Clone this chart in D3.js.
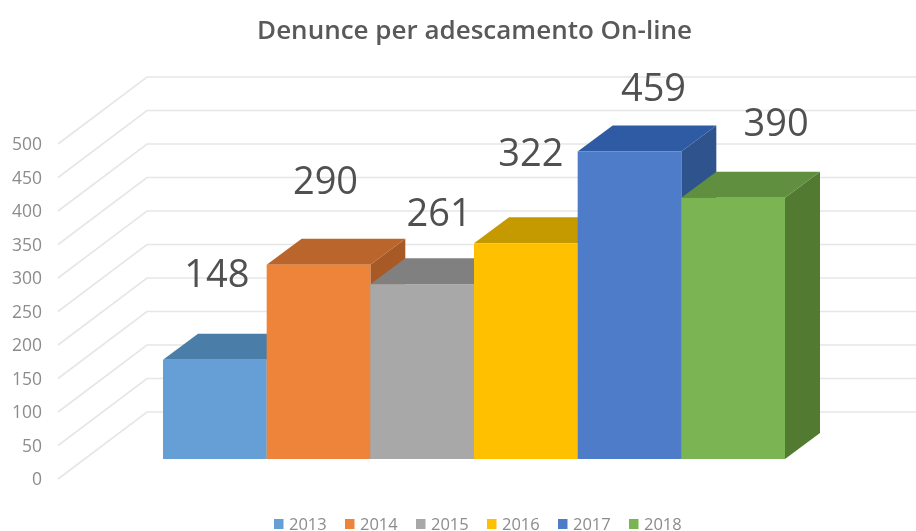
<!DOCTYPE html>
<html><head><meta charset="utf-8">
<script src="https://cdn.jsdelivr.net/npm/d3@7"></script>
<style>html,body{margin:0;background:#fff}svg{display:block;filter:blur(.55px)}text{font-family:"Open Sans",sans-serif}</style>
</head><body><svg id="c" width="916" height="531"></svg>
<script>
const titleText = "Denunce per adescamento On-line";
const years = ["2013","2014","2015","2016","2017","2018"];
const counts = [148,290,261,322,459,390];
const ticks = [0,50,100,150,200,250,300,350,400,450,500];
const frontColors = ["#659fd6","#ee843a","#a8a8a8","#ffc000","#4e7cc9","#7bb452"];
const topColors = ["#4a7ea9","#b9652c","#808080","#c49a00","#2f5ba5","#5f8f3f"];
const sideColors = ["#3f6f99","#a85a26","#707070","#a88400","#2f538d","#537a31"];

const W=916;
const svg=d3.select("#c");
const x=d3.scaleBand().domain(years).range([163,785]).padding(0);
const yFront=d3.scaleLinear().domain([0,500]).range([459,124]);
const yBack=d3.scaleLinear().domain([0,500]).range([412,77]);
const dep={dx:35,dy:-26};
const wall={left:58,corner:147,drop:67};

svg.append("text").attr("x",474.5).attr("y",39).attr("text-anchor","middle")
  .attr("font-size",26).attr("font-weight",600).attr("fill","#595959").text(titleText);

const grid=d3.line();
svg.append("g").selectAll("path").data(ticks).join("path")
  .attr("d",v=>grid([[wall.left,yBack(v)+wall.drop],[wall.corner,yBack(v)],[W,yBack(v)]]))
  .attr("fill","none").attr("stroke","#e6e6e6").attr("stroke-width",1.6);

svg.append("g").selectAll("text").data(ticks).join("text")
  .attr("x",42).attr("y",v=>yBack(v)+wall.drop).attr("dy","0.35em").attr("text-anchor","end")
  .attr("font-size",17.5).attr("fill","#8c8c8c").text(d=>d);

const bars=svg.append("g").selectAll("g").data(years).join("g");
const poly=p=>p.map(a=>a.join(",")).join(" ");
bars.append("polygon").attr("fill",(d,i)=>sideColors[i]).attr("points",(d,i)=>{
  const r=x(d)+x.bandwidth(),t=yFront(counts[i]),b=yFront(0);
  return poly([[r,t],[r+dep.dx,t+dep.dy],[r+dep.dx,b+dep.dy],[r,b]]);});
bars.append("polygon").attr("fill",(d,i)=>topColors[i]).attr("points",(d,i)=>{
  const l=x(d),r=l+x.bandwidth(),t=yFront(counts[i]);
  return poly([[l,t],[l+dep.dx,t+dep.dy],[r+dep.dx,t+dep.dy],[r,t]]);});
bars.append("rect").attr("x",d=>x(d)).attr("width",x.bandwidth())
  .attr("y",(d,i)=>yFront(counts[i])).attr("height",(d,i)=>yFront(0)-yFront(counts[i]))
  .attr("fill",(d,i)=>frontColors[i]);

// data labels were dragged by hand in the original: offsets from each bar's top centre
const labelDx=[2,7,17,5,24,43], labelDy=[-86,-84,-71,-91,-64,-75];
svg.append("g").selectAll("text").data(years).join("text")
  .attr("x",(d,i)=>x(d)+x.bandwidth()/2+labelDx[i])
  .attr("y",(d,i)=>yFront(counts[i])+labelDy[i]).attr("dy","0.35em")
  .attr("text-anchor","middle").attr("font-size",38).attr("fill","#505050").text((d,i)=>counts[i]);

const lx=d3.scalePoint().domain(years).range([274,629]);
const leg=svg.append("g").selectAll("g").data(years).join("g")
  .attr("transform",d=>`translate(${lx(d)},0)`);
leg.append("rect").attr("y",519).attr("width",9.5).attr("height",10).attr("fill",(d,i)=>frontColors[i]);
leg.append("text").attr("x",15).attr("y",524).attr("dy","0.35em")
  .attr("font-size",16.5).attr("fill","#8c8c8c").text(d=>d);
</script></body></html>
